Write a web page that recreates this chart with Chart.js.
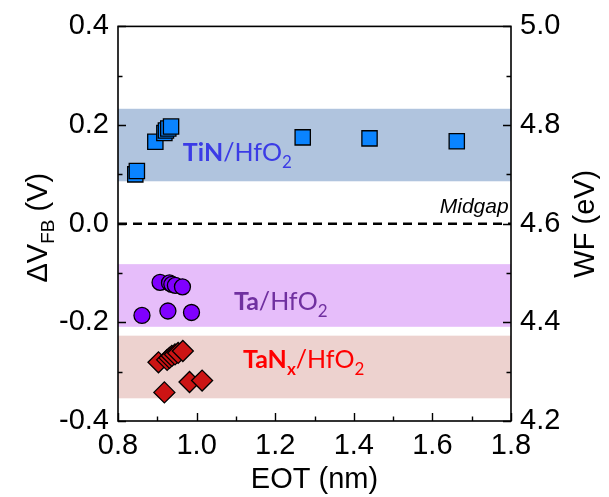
<!DOCTYPE html>
<html>
<head>
<meta charset="utf-8">
<script src="https://cdn.jsdelivr.net/npm/chart.js@4/dist/chart.umd.min.js"></script>
<style>
  html, body { margin: 0; padding: 0; background: #fff; }
  #wrap { width: 609px; height: 497px; }
</style>
</head>
<body>
<div id="wrap"><canvas id="c" width="609" height="497"></canvas></div>
<script>
// ---- data ----
const tinEOT = [0.844, 0.848, 0.895, 0.918, 0.922, 0.928, 0.935, 1.27, 1.44, 1.662];
const tinVfb = [0.100, 0.107, 0.166, 0.184, 0.189, 0.193, 0.197, 0.175, 0.173, 0.167];

const taEOT = [0.861, 0.907, 0.927, 0.931, 0.937, 0.946, 0.964, 0.987];
const taVfb = [-0.186, -0.119, -0.177, -0.120, -0.123, -0.125, -0.128, -0.180];

const tanEOT = [0.903, 0.918, 0.925, 0.931, 0.937, 0.945, 0.953, 0.965, 0.982, 1.014];
const tanVfb = [-0.281, -0.342, -0.276, -0.272, -0.268, -0.265, -0.262, -0.258, -0.321, -0.318];

// shaded ranges (low, high) in ΔVFB
const tinBand = [0.086, 0.233];
const taBand = [-0.209, -0.082];
const tanBand = [-0.354, -0.227];

const midgapV = 0.0;
const eotRange = [0.8, 1.8];
const vfbRange = [-0.4, 0.4];
const wfRange = [4.2, 5.0];

const FONT = '"Liberation Sans", Arial, sans-serif';
const LFONT = 'Lato, "Open Sans", sans-serif';

function pts(xs, ys) { return xs.map((x, i) => ({ x: x, y: ys[i] })); }

const bandsPlugin = {
  id: 'bands',
  beforeDatasetsDraw(chart) {
    const { ctx, chartArea: a, scales: { y } } = chart;
    const bands = [[tinBand, '#b0c4de'], [taBand, '#e6bdfa'], [tanBand, '#edd2cf']];
    ctx.save();
    bands.forEach(([b, col]) => {
      const y1 = y.getPixelForValue(b[1]);
      const y0 = y.getPixelForValue(b[0]);
      ctx.fillStyle = col;
      ctx.fillRect(a.left, y1, a.right - a.left, y0 - y1);
    });
    ctx.restore();
  }
};

const framePlugin = {
  id: 'frame',
  afterDraw(chart) {
    const { ctx, chartArea: a, scales: { x, y, y2 } } = chart;
    ctx.save();
    ctx.strokeStyle = '#000';
    ctx.lineWidth = 1.6;
    ctx.strokeRect(a.left, a.top, a.right - a.left, a.bottom - a.top);
    ctx.lineWidth = 1.4;
    ctx.beginPath();
    for (let i = 0; i <= 10; i++) {
      const L = i % 2 === 0 ? 8 : 4.5;
      const px = Math.round(x.getPixelForValue(eotRange[0] + i * 0.1)) + 0.5;
      ctx.moveTo(px, a.bottom); ctx.lineTo(px, a.bottom - L);
    }
    for (let i = 0; i <= 8; i++) {
      const L = i % 2 === 0 ? 8 : 4.5;
      const py = Math.round(y.getPixelForValue(vfbRange[0] + i * 0.1)) + 0.5;
      ctx.moveTo(a.left, py); ctx.lineTo(a.left + L, py);
      const py2 = Math.round(y2.getPixelForValue(wfRange[0] + i * 0.1)) + 0.5;
      ctx.moveTo(a.right, py2); ctx.lineTo(a.right - L, py2);
    }
    ctx.stroke();

    // axis titles
    ctx.fillStyle = '#000';
    ctx.textBaseline = 'alphabetic';
    ctx.font = '29px ' + FONT;
    ctx.textAlign = 'center';
    ctx.fillText('EOT (nm)', (a.left + a.right) / 2, 488);

    // left: ΔV_FB (V)
    ctx.save();
    ctx.translate(47, (a.top + a.bottom) / 2 + 4);
    ctx.rotate(-Math.PI / 2);
    const big = '29px ' + FONT, small = '19px ' + FONT;
    ctx.font = big; const w1 = ctx.measureText('\u0394V').width;
    ctx.font = small; const w2 = ctx.measureText('FB').width;
    ctx.font = big; const w3 = ctx.measureText(' (V)').width;
    let sx = -(w1 + w2 + w3) / 2;
    ctx.textAlign = 'left';
    ctx.font = big; ctx.fillText('\u0394V', sx, 0); sx += w1;
    ctx.font = small; ctx.fillText('FB', sx, 7); sx += w2;
    ctx.font = big; ctx.fillText(' (V)', sx, 0);
    ctx.restore();

    // right: WF (eV)
    ctx.save();
    ctx.translate(594, (a.top + a.bottom) / 2);
    ctx.rotate(-Math.PI / 2);
    ctx.font = '29px ' + FONT;
    ctx.textAlign = 'center';
    ctx.fillText('WF (eV)', 0, 0);
    ctx.restore();

    // in-plot labels
    function label(parts, vx, vy, color) {
      let px = x.getPixelForValue(vx);
      const py = y.getPixelForValue(vy);
      ctx.fillStyle = color;
      ctx.textAlign = 'left';
      parts.forEach(p => {
        ctx.font = p.f;
        ctx.fillText(p.t, px, py + (p.dy || 0));
        px += ctx.measureText(p.t).width;
      });
    }
    const B = 'bold 25px ' + LFONT, R = '25px ' + LFONT;
    const SB = 'bold 17px ' + LFONT, SR = '17px ' + LFONT;
    label([{ t: 'TiN', f: B }, { t: '/HfO', f: R }, { t: '2', f: SR, dy: 7 }], 0.965, 0.127, '#3b3be6');
    label([{ t: 'Ta', f: B }, { t: '/HfO', f: R }, { t: '2', f: SR, dy: 7 }], 1.095, -0.175, '#7030a0');
    label([{ t: 'TaN', f: B }, { t: 'x', f: SB, dy: 7 }, { t: '/HfO', f: R }, { t: '2', f: SR, dy: 7 }], 1.118, -0.293, '#ff0000');

    ctx.fillStyle = '#000';
    ctx.font = 'italic 21px ' + FONT;
    ctx.textAlign = 'right';
    ctx.fillText('Midgap', x.getPixelForValue(1.794), y.getPixelForValue(0.022));
    ctx.restore();
  }
};

const tickFont = { family: FONT, size: 29 };

new Chart(document.getElementById('c'), {
  type: 'scatter',
  data: {
    datasets: [
      {
        type: 'line',
        data: [{ x: eotRange[0], y: midgapV }, { x: eotRange[1], y: midgapV }],
        borderColor: '#000', borderWidth: 2.6, borderDash: [9, 6],
        pointRadius: 0, fill: false, order: 4
      },
      {
        data: pts(tanEOT, tanVfb), pointStyle: 'rectRot', pointRadius: 10.5,
        backgroundColor: '#cc1414', borderColor: '#000', borderWidth: 1.3, order: 3
      },
      {
        data: pts(taEOT, taVfb), pointStyle: 'circle', pointRadius: 8,
        backgroundColor: '#8000ff', borderColor: '#000', borderWidth: 1.3, order: 2
      },
      {
        data: pts(tinEOT, tinVfb), pointStyle: 'rect', pointRadius: 10.8,
        backgroundColor: '#0a84ff', borderColor: '#000', borderWidth: 1.3, order: 1
      }
    ]
  },
  options: {
    responsive: false,
    animation: false,
    layout: { padding: { top: 23, left: 0, right: 0, bottom: 0 } },
    plugins: { legend: { display: false }, tooltip: { enabled: false } },
    scales: {
      x: {
        type: 'linear', position: 'bottom', min: eotRange[0], max: eotRange[1],
        ticks: { stepSize: 0.2, font: tickFont, color: '#000', padding: 8, maxRotation: 0, autoSkip: false,
                 callback: v => v.toFixed(1) },
        grid: { display: false, drawTicks: false }, border: { display: false },
        afterFit: s => { s.height = 76; }
      },
      y: {
        position: 'left', min: vfbRange[0], max: vfbRange[1],
        ticks: { stepSize: 0.2, font: tickFont, color: '#000', padding: 9, callback: v => v.toFixed(1) },
        grid: { display: false, drawTicks: false }, border: { display: false },
        afterFit: s => { s.width = 118; }
      },
      y2: {
        position: 'right', min: wfRange[0], max: wfRange[1],
        ticks: { stepSize: 0.2, font: tickFont, color: '#000', padding: 9, callback: v => v.toFixed(1) },
        grid: { display: false, drawTicks: false }, border: { display: false },
        afterFit: s => { s.width = 98; }
      }
    }
  },
  plugins: [bandsPlugin, framePlugin]
});
</script>
</body>
</html>
